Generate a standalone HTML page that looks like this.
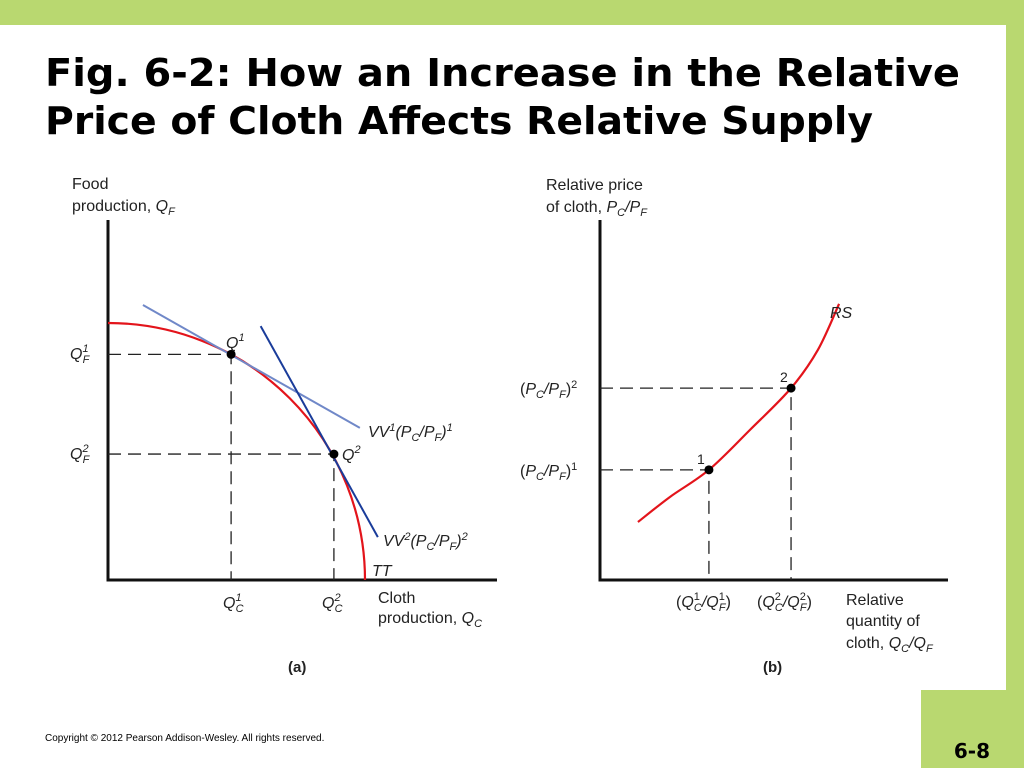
<!DOCTYPE html>
<html><head><meta charset="utf-8"><style>
html,body{margin:0;padding:0;background:#fff;}
svg{display:block;font-family:"Liberation Sans",Arial,sans-serif;}
.lab{font-size:16px;fill:#222;}
.it{font-style:italic;}
</style></head><body>
<svg id="chart" width="1024" height="768" viewBox="0 0 1024 768">
<rect x="0" y="0" width="1024" height="25" fill="#b9d870"/>
<rect x="1006" y="0" width="18" height="690" fill="#b9d870"/>
<rect x="921" y="690" width="103" height="78" fill="#b9d870"/>
<text x="990" y="760" font-family="DejaVu Sans" font-weight="bold" font-size="20" text-anchor="end" fill="#000" transform="translate(0,-2)">6-8</text>
<text x="45" y="86" font-family="DejaVu Sans" font-weight="bold" font-size="38" textLength="915" lengthAdjust="spacingAndGlyphs" fill="#000">Fig. 6-2: How an Increase in the Relative</text>
<text x="45" y="134" font-family="DejaVu Sans" font-weight="bold" font-size="38" textLength="828" lengthAdjust="spacingAndGlyphs" fill="#000">Price of Cloth Affects Relative Supply</text>
<text x="45" y="741" font-size="10" fill="#000">Copyright © 2012 Pearson Addison-Wesley. All rights reserved.</text>
<g id="a"></g>
<g id="b"></g>
</svg>
<script>
// Panel (a) data (abstract units, 0..10)
const ttRadius = [10];
const qcValues = [4.79, 8.79];
const qfValues = [8.78, 4.90];
const vv1Line = [[1.36, 10.7], [9.8, 5.92]];
const vv2Line = [[5.94, 9.88], [10.5, 1.67]];
// Panel (b) data
const rsX = [1.09, 2.0, 3.13, 4.31, 5.49, 6.26, 6.87];
const rsY = [1.61, 2.3, 3.06, 4.17, 5.33, 6.39, 7.67];
const pointX = [3.13, 5.49];
const pointY = [3.06, 5.33];

const NS = "http://www.w3.org/2000/svg";
function mk(parent, tag, attrs) { const e = document.createElementNS(NS, tag); for (const k in attrs) e.setAttribute(k, attrs[k]); parent.appendChild(e); return e; }

// ---- panel a ----
const A = document.getElementById('a');
const ax = v => 108 + v * 25.7, ay = v => 580 - v * 25.7;
let e;
e = mk(A, 'line', {x1:108, y1:220, x2:108, y2:580, stroke:'#111', 'stroke-width':3});
 
e = mk(A, 'line', {x1:106.5, y1:580, x2:497, y2:580, stroke:'#111', 'stroke-width':3});
 
for (let i = 0; i < 2; i++) {
  e = mk(A, 'path', {d:`M108 ${ay(qfValues[i])} H${ax(qcValues[i])} V580`, fill:'none', stroke:'#222', 'stroke-width':1.3, 'stroke-dasharray':'13 7'});
   
}
const r = ttRadius[0];
e = mk(A, 'path', {d:`M${ax(0)} ${ay(r)} A${r*25.7} ${r*25.7} 0 0 1 ${ax(r)} ${ay(0)}`, fill:'none', stroke:'#e3141b', 'stroke-width':2.2});
 
e = mk(A, 'line', {x1:ax(vv1Line[0][0]), y1:ay(vv1Line[0][1]), x2:ax(vv1Line[1][0]), y2:ay(vv1Line[1][1]), stroke:'#7088c8', 'stroke-width':2});
 
e = mk(A, 'line', {x1:ax(vv2Line[0][0]), y1:ay(vv2Line[0][1]), x2:ax(vv2Line[1][0]), y2:ay(vv2Line[1][1]), stroke:'#1a3c9a', 'stroke-width':2});
 
for (let i = 0; i < 2; i++) {
  e = mk(A, 'circle', {cx:ax(qcValues[i]), cy:ay(qfValues[i]), r:4.5, fill:'#000'});
   
}

// ---- panel b ----
const B = document.getElementById('b');
const bx = v => 600 + v * 34.8, by = v => 580 - v * 36;
e = mk(B, 'line', {x1:600, y1:220, x2:600, y2:580, stroke:'#111', 'stroke-width':3});
 
e = mk(B, 'line', {x1:598.5, y1:580, x2:948, y2:580, stroke:'#111', 'stroke-width':3});
 
for (let i = 0; i < 2; i++) {
  e = mk(B, 'path', {d:`M600 ${by(pointY[i])} H${bx(pointX[i])} V580`, fill:'none', stroke:'#222', 'stroke-width':1.3, 'stroke-dasharray':'13 7'});
   
}
const pts = rsX.map((v, i) => [bx(v), by(rsY[i])]);
let d = `M${pts[0][0]} ${pts[0][1]}`;
for (let i = 0; i < pts.length - 1; i++) {
  const p0 = pts[Math.max(0, i - 1)], p1 = pts[i], p2 = pts[i + 1], p3 = pts[Math.min(pts.length - 1, i + 2)];
  d += ` C${p1[0] + (p2[0] - p0[0]) / 6} ${p1[1] + (p2[1] - p0[1]) / 6} ${p2[0] - (p3[0] - p1[0]) / 6} ${p2[1] - (p3[1] - p1[1]) / 6} ${p2[0]} ${p2[1]}`;
}
e = mk(B, 'path', {d:d, fill:'none', stroke:'#e3141b', 'stroke-width':2.2});
 
for (let i = 0; i < 2; i++) {
  e = mk(B, 'circle', {cx:bx(pointX[i]), cy:by(pointY[i]), r:4.5, fill:'#000'});
   
}
</script>
<svg width="1024" height="768" style="position:absolute;left:0;top:0">
<g class="lab" font-family="Liberation Sans, Arial, sans-serif" font-size="16" fill="#222">
<text x="72" y="189">Food</text>
<text x="72" y="211">production, <tspan font-style="italic">Q<tspan font-size="11" dy="4">F</tspan></tspan></text>
<text x="70" y="359" font-style="italic">Q<tspan font-size="11" dy="-7">1</tspan><tspan font-size="11" dx="-6" dy="11">F</tspan></text>
<text x="70" y="459" font-style="italic">Q<tspan font-size="11" dy="-7">2</tspan><tspan font-size="11" dx="-6" dy="11">F</tspan></text>
<text x="223" y="608" font-style="italic">Q<tspan font-size="11" dy="-7">1</tspan><tspan font-size="11" dx="-6" dy="11">C</tspan></text>
<text x="322" y="608" font-style="italic">Q<tspan font-size="11" dy="-7">2</tspan><tspan font-size="11" dx="-6" dy="11">C</tspan></text>
<text x="226" y="348" font-style="italic">Q<tspan font-size="11" dy="-7">1</tspan></text>
<text x="342" y="460" font-style="italic">Q<tspan font-size="11" dy="-7">2</tspan></text>
<text x="368" y="437" font-style="italic">VV<tspan font-size="11" dy="-6">1</tspan><tspan dy="6">(P</tspan><tspan font-size="11" dy="4">C</tspan><tspan dy="-4">/P</tspan><tspan font-size="11" dy="4">F</tspan><tspan dy="-4">)</tspan><tspan font-size="11" dy="-6">1</tspan></text>
<text x="383" y="546" font-style="italic">VV<tspan font-size="11" dy="-6">2</tspan><tspan dy="6">(P</tspan><tspan font-size="11" dy="4">C</tspan><tspan dy="-4">/P</tspan><tspan font-size="11" dy="4">F</tspan><tspan dy="-4">)</tspan><tspan font-size="11" dy="-6">2</tspan></text>
<text x="372" y="576" font-style="italic">TT</text>
<text x="378" y="603">Cloth</text>
<text x="378" y="623">production, <tspan font-style="italic">Q<tspan font-size="11" dy="4">C</tspan></tspan></text>
<text x="288" y="672" font-weight="bold" font-size="15">(a)</text>
<text x="546" y="190">Relative price</text>
<text x="546" y="212">of cloth, <tspan font-style="italic">P<tspan font-size="11" dy="4">C</tspan><tspan dy="-4">/P</tspan><tspan font-size="11" dy="4">F</tspan></tspan></text>
<text x="520" y="394">(<tspan font-style="italic">P</tspan><tspan font-size="11" font-style="italic" dy="4">C</tspan><tspan font-style="italic" dy="-4">/P</tspan><tspan font-size="11" font-style="italic" dy="4">F</tspan><tspan dy="-4">)</tspan><tspan font-size="11" dy="-6">2</tspan></text>
<text x="520" y="476">(<tspan font-style="italic">P</tspan><tspan font-size="11" font-style="italic" dy="4">C</tspan><tspan font-style="italic" dy="-4">/P</tspan><tspan font-size="11" font-style="italic" dy="4">F</tspan><tspan dy="-4">)</tspan><tspan font-size="11" dy="-6">1</tspan></text>
<text x="697" y="464" font-size="14">1</text>
<text x="780" y="382" font-size="14">2</text>
<text x="830" y="318" font-style="italic">RS</text>
<text x="676" y="607">(<tspan font-style="italic">Q</tspan><tspan font-size="11" dy="-7">1</tspan><tspan font-size="11" font-style="italic" dx="-6" dy="11">C</tspan><tspan font-style="italic" dy="-4">/Q</tspan><tspan font-size="11" dy="-7">1</tspan><tspan font-size="11" font-style="italic" dx="-6" dy="11">F</tspan><tspan dy="-4">)</tspan></text>
<text x="757" y="607">(<tspan font-style="italic">Q</tspan><tspan font-size="11" dy="-7">2</tspan><tspan font-size="11" font-style="italic" dx="-6" dy="11">C</tspan><tspan font-style="italic" dy="-4">/Q</tspan><tspan font-size="11" dy="-7">2</tspan><tspan font-size="11" font-style="italic" dx="-6" dy="11">F</tspan><tspan dy="-4">)</tspan></text>
<text x="846" y="605">Relative</text>
<text x="846" y="626">quantity of</text>
<text x="846" y="648">cloth, <tspan font-style="italic">Q<tspan font-size="11" dy="4">C</tspan><tspan dy="-4">/Q</tspan><tspan font-size="11" dy="4">F</tspan></tspan></text>
<text x="763" y="672" font-weight="bold" font-size="15">(b)</text>
</g>
</svg>
</body></html>
